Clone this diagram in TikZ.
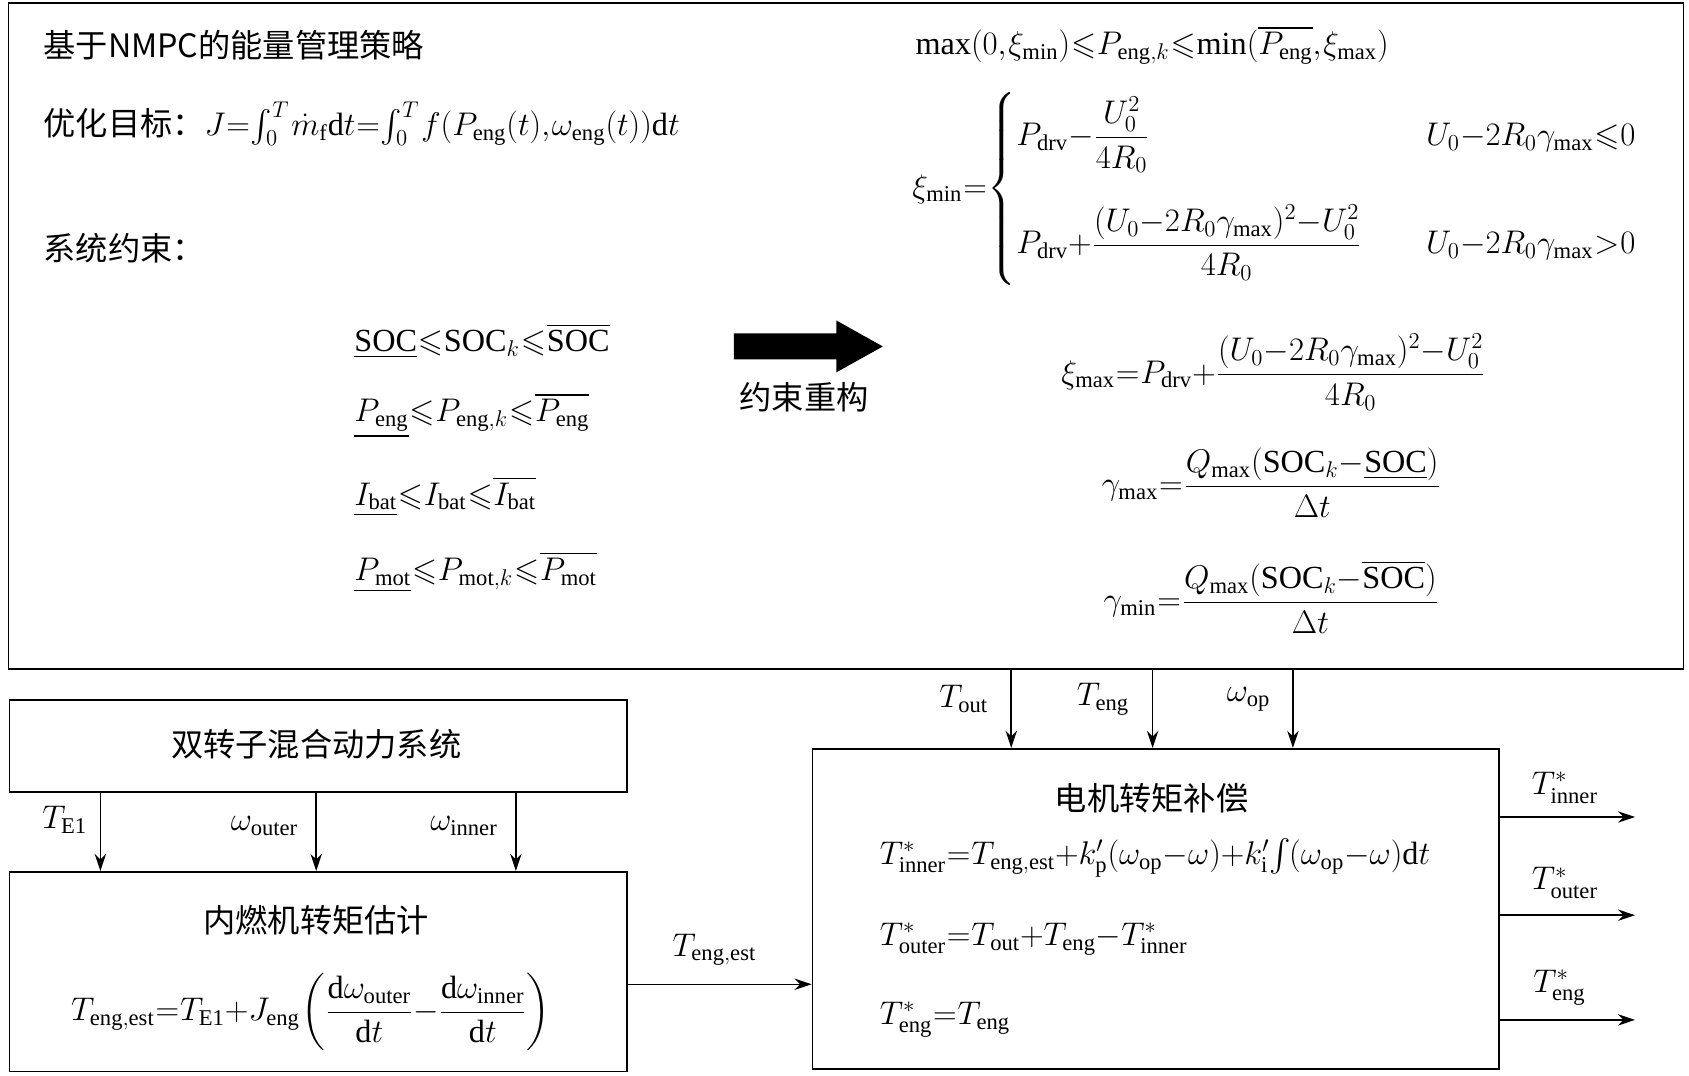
\documentclass[tikz,border=0pt]{standalone}
\usepackage{amsmath,amssymb}
\usepackage{fontspec}
\setmainfont{Liberation Serif}
\newfontfamily\cjk{Noto Sans CJK SC}
\usetikzlibrary{arrows.meta}
\medmuskip=0mu
\thickmuskip=0.5mu
\thinmuskip=1mu
\begin{document}
\begin{tikzpicture}[x=0.02cm,y=-0.02cm,
  every node/.style={font=\fontsize{17}{20}\selectfont, inner sep=0pt},
  box/.style={draw, line width=0.9pt},
  conn/.style={-{Stealth[length=9pt,width=6pt]}, line width=0.8pt}]
\useasboundingbox (0,0) rectangle (1565,997);
% boxes
\draw[box] (8,3) rectangle (1560,620);
\node[box, minimum width=572*0.02cm, minimum height=85*0.02cm, anchor=north west] (sys) at (8,648) {};
\node[box, minimum width=572*0.02cm, minimum height=185*0.02cm, anchor=north west] (est) at (8,807) {};
\node[box, minimum width=636*0.02cm, minimum height=297*0.02cm, anchor=north west] (comp) at (752,693) {};
% top box content
\node[anchor=west] (title) at (40,42) {\cjk 基于NMPC的能量管理策略};
\node[anchor=west] (obj) at (40,115) {{\cjk 优化目标：}$J=\int_0^T\dot m_{\mathrm f}\mathrm dt=\int_0^T f(P_{\mathrm{eng}}(t),\omega_{\mathrm{eng}}(t))\mathrm dt$};
\node[anchor=west] (cons) at (40,230) {\cjk 系统约束：};
\node[anchor=west] (c1) at (328,316) {$\underline{\mathrm{SOC}}\leqslant\mathrm{SOC}_k\leqslant\overline{\mathrm{SOC}}$};
\node[anchor=west] (c2) at (328,385) {$\underline{P_{\mathrm{eng}}}\leqslant P_{\mathrm{eng},k}\leqslant\overline{P_{\mathrm{eng}}}$};
\node[anchor=west] (c3) at (328,460) {$\underline{I_{\mathrm{bat}}}\leqslant I_{\mathrm{bat}}\leqslant\overline{I_{\mathrm{bat}}}$};
\node[anchor=west] (c4) at (328,530) {$\underline{P_{\mathrm{mot}}}\leqslant P_{\mathrm{mot},k}\leqslant\overline{P_{\mathrm{mot}}}$};
\fill (680,309) -- (775,309) -- (775,297) -- (818,321) -- (775,345) -- (775,333) -- (680,333) -- cycle;
\node (recon) at (745,368) {\cjk 约束重构};
\node[anchor=west] (r1) at (848,42) {$\max(0,\xi_{\min})\leqslant P_{\mathrm{eng},k}\leqslant\min(\overline{P_{\mathrm{eng}}},\xi_{\max})$};
\node[anchor=west] (r2) at (845,175) {$\xi_{\min}=\begin{cases}P_{\mathrm{drv}}-\dfrac{U_0^2}{4R_0} & \quad U_0-2R_0\gamma_{\max}\leqslant0\\[24pt]
P_{\mathrm{drv}}+\dfrac{(U_0-2R_0\gamma_{\max})^2-U_0^2}{4R_0} & \quad U_0-2R_0\gamma_{\max}>0\end{cases}$};
\node (r3) at (1180,345) {$\xi_{\max}=P_{\mathrm{drv}}+\dfrac{(U_0-2R_0\gamma_{\max})^2-U_0^2}{4R_0}$};
\node (r4) at (1178,447) {$\gamma_{\max}=\dfrac{Q_{\max}(\mathrm{SOC}_k-\underline{\mathrm{SOC}})}{\Delta t}$};
\node (r5) at (1178,553) {$\gamma_{\min}=\dfrac{Q_{\max}(\mathrm{SOC}_k-\overline{\mathrm{SOC}})}{\Delta t}$};
% left boxes text
\node (systitle) at (293,690) {\cjk 双转子混合动力系统};
\node (esttitle) at (293,853) {\cjk 内燃机转矩估计};
\node (estf) at (288,938) {$T_{\mathrm{eng,est}}=T_{\mathrm{E1}}+J_{\mathrm{eng}}\left(\dfrac{\mathrm d\omega_{\mathrm{outer}}}{\mathrm dt}-\dfrac{\mathrm d\omega_{\mathrm{inner}}}{\mathrm dt}\right)$};
% comp box text
\node (comptitle) at (1067,740) {\cjk 电机转矩补偿};
\node[anchor=west] (f1) at (815,795) {$T^*_{\mathrm{inner}}=T_{\mathrm{eng,est}}+k'_{\mathrm p}(\omega_{\mathrm{op}}-\omega)+k'_{\mathrm i}\!\int\!(\omega_{\mathrm{op}}-\omega)\mathrm dt$};
\node[anchor=west] (f2) at (815,870) {$T^*_{\mathrm{outer}}=T_{\mathrm{out}}+T_{\mathrm{eng}}-T^*_{\mathrm{inner}}$};
\node[anchor=west] (f3) at (815,945) {$T^*_{\mathrm{eng}}=T_{\mathrm{eng}}$};
% connectors sys -> est
\foreach \x/\n in {93/a,293/b,478/c}{
  \coordinate (s\n) at (\x,733); \coordinate (e\n) at (\x,807);
  \draw[conn] (s\n) -- (e\n);}
\node (lT) at (60,760) {$T_{\mathrm{E1}}$};
\node (lo) at (245,765) {$\omega_{\mathrm{outer}}$};
\node (li) at (430,765) {$\omega_{\mathrm{inner}}$};
% top -> comp
\foreach \x/\n in {937/a,1068/b,1198/c}{
  \coordinate (t\n) at (\x,620); \coordinate (m\n) at (\x,693);
  \draw[conn] (t\n) -- (m\n);}
\node (lto) at (893,648) {$T_{\mathrm{out}}$};
\node (lte) at (1022,648) {$T_{\mathrm{eng}}$};
\node (lop) at (1157,648) {$\omega_{\mathrm{op}}$};
% est -> comp
\coordinate (eo) at (580,912); \coordinate (ci) at (752,912);
\draw[conn] (eo) -- (ci);
\node (lest) at (662,880) {$T_{\mathrm{eng,est}}$};
% outputs
\foreach \y/\n in {757/a,848/b,945/c}{
  \coordinate (o\n) at (1388,\y); \coordinate (p\n) at (1515,\y);
  \draw[conn] (o\n) -- (p\n);}
\node (lo1) at (1450,730) {$T^*_{\mathrm{inner}}$};
\node (lo2) at (1450,818) {$T^*_{\mathrm{outer}}$};
\node (lo3) at (1445,915) {$T^*_{\mathrm{eng}}$};
\end{tikzpicture}
\end{document}
